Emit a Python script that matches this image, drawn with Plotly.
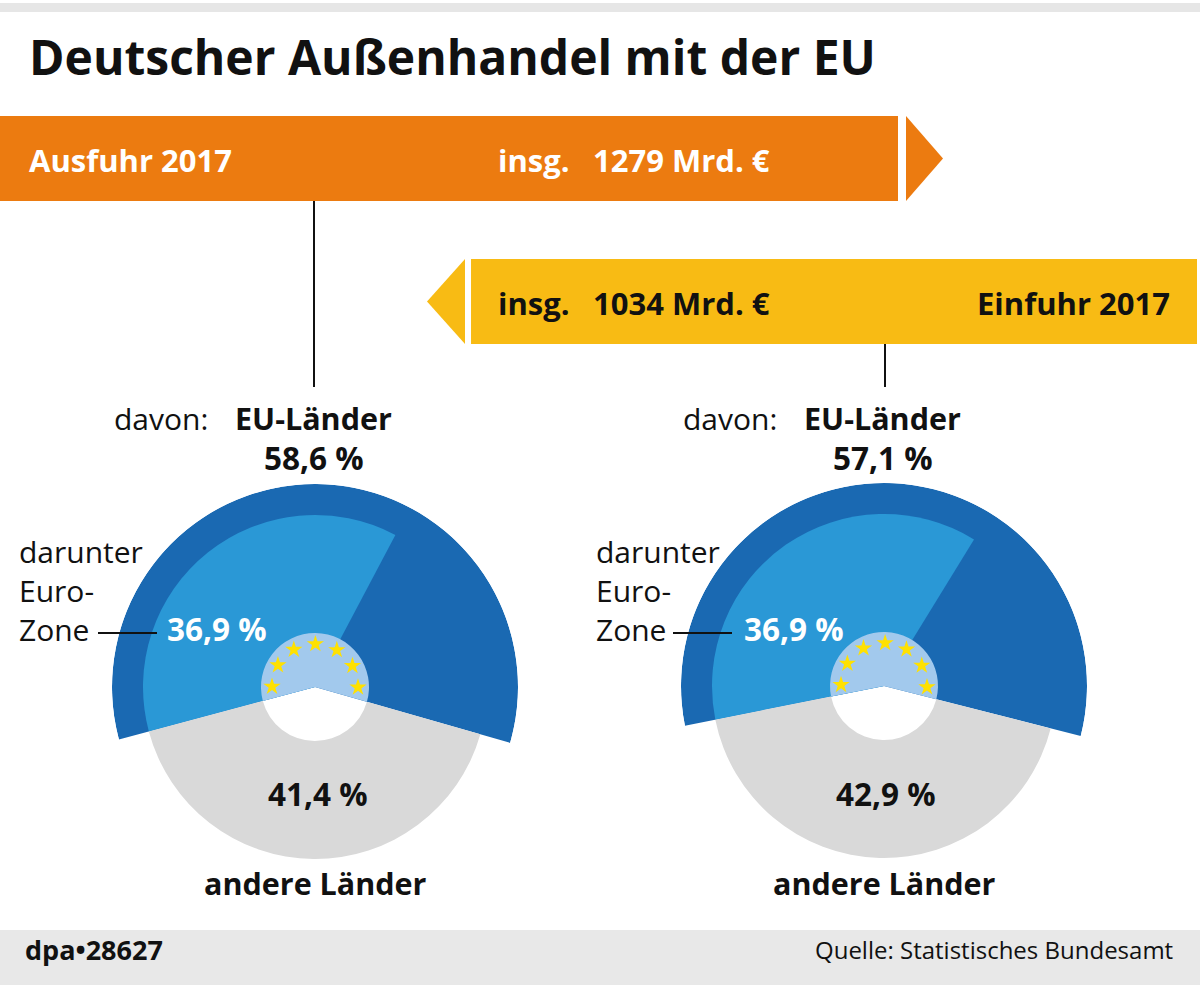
import plotly.graph_objects as go

W, H = 1200, 985
FONT = "Open Sans"

# ---------------- data ----------------
flows = ["Ausfuhr 2017", "Einfuhr 2017"]
totals_bn = [1279, 1034]            # Mrd. €
eu_share = [58.6, 57.1]             # % EU-Länder
eurozone_share = [36.9, 36.9]       # % darunter Euro-Zone
other_share = [41.4, 42.9]          # % andere Länder
star_angles = [-90, -60, -30, 0, 30, 60, 90]

# ---------------- style ----------------
ORANGE = "#ec7b10"
YELLOW = "#f8bb14"
DARK = "#1a69b2"
LIGHT = "#2a98d6"
PALE = "#a2c9ed"
GREY = "#d9d9d9"
STAR = "#ffe100"
INK = "#111111"

R_OUT, R_MID, R_IN, R_STAR = 203, 172, 54, 43
centers = [(315, 687), (884, 686)]     # pixel centres of the two rings
rotations = [89.5, 88.5]

PXU = 898 / totals_bn[0]               # px per Mrd. €
X_MAX = W / PXU
IMPORT_END = 1197 / PXU
ROW_PX = [158.5, 301.5]
ROW_STEP = ROW_PX[1] - ROW_PX[0]
BAR_H = 85 / ROW_STEP


def pct(v):
    return f"{v:.1f}".replace(".", ",") + " %"


fig = go.Figure()

# ---------------- bars (Ausfuhr / Einfuhr) ----------------
fig.add_trace(go.Bar(x=[totals_bn[0]], y=[0], base=[0], orientation="h",
                     width=[BAR_H], marker=dict(color=ORANGE, line=dict(width=0)),
                     hoverinfo="skip", showlegend=False))
imp_base = IMPORT_END - totals_bn[1]
fig.add_trace(go.Bar(x=[totals_bn[1]], y=[1], base=[imp_base], orientation="h",
                     width=[BAR_H], marker=dict(color=YELLOW, line=dict(width=0)),
                     hoverinfo="skip", showlegend=False))

# arrow heads derived from bar ends
g_o, L_o = 8 / PXU, 37 / PXU
v = totals_bn[0]
h = BAR_H / 2
fig.add_trace(go.Scatter(x=[v + g_o, v + g_o + L_o, v + g_o, v + g_o],
                         y=[0 - h, 0, 0 + h, 0 - h], fill="toself", mode="lines",
                         fillcolor=ORANGE, line=dict(width=0, color=ORANGE),
                         hoverinfo="skip", showlegend=False))
g_y, L_y = 6 / PXU, 38 / PXU
fig.add_trace(go.Scatter(x=[imp_base - g_y, imp_base - g_y - L_y, imp_base - g_y, imp_base - g_y],
                         y=[1 - h, 1, 1 + h, 1 - h], fill="toself", mode="lines",
                         fillcolor=YELLOW, line=dict(width=0, color=YELLOW),
                         hoverinfo="skip", showlegend=False))

# ---------------- rings ----------------
for i in range(2):
    sp = "polar" if i == 0 else "polar2"
    eu_w = eu_share[i] * 3.6
    ez_w = eurozone_share[i] * 3.6
    ot_w = other_share[i] * 3.6
    common = dict(subplot=sp, hoverinfo="skip", showlegend=False)
    fig.add_trace(go.Barpolar(r=[R_OUT], theta=[0], width=[eu_w], base=[0],
                              marker=dict(color=DARK, line=dict(width=0)), **common))
    fig.add_trace(go.Barpolar(r=[R_MID], theta=[-eu_w / 2 + ez_w / 2], width=[ez_w], base=[0],
                              marker=dict(color=LIGHT, line=dict(width=0)), **common))
    fig.add_trace(go.Barpolar(r=[R_MID - R_IN], theta=[180], width=[ot_w], base=[R_IN],
                              marker=dict(color=GREY, line=dict(width=0)), **common))
    fig.add_trace(go.Barpolar(r=[R_IN], theta=[0], width=[eu_w], base=[0],
                              marker=dict(color=PALE, line=dict(width=0)), **common))
    fig.add_trace(go.Scatterpolar(r=[R_STAR] * len(star_angles), theta=star_angles, mode="markers",
                                  marker=dict(symbol="star", size=13, color=STAR,
                                              line=dict(width=0)), **common))


def polar_layout(cx, cy, rot):
    return dict(
        domain=dict(x=[(cx - R_OUT) / W, (cx + R_OUT) / W],
                    y=[(H - cy - R_OUT) / H, (H - cy + R_OUT) / H]),
        bgcolor="rgba(0,0,0,0)", hole=0, bargap=0,
        radialaxis=dict(range=[0, R_OUT], visible=False, showgrid=False),
        angularaxis=dict(visible=False, showgrid=False, rotation=rot, direction="clockwise"),
    )


def ann(text, x, y, size, bold=False, color=INK, xanchor="left"):
    return dict(text=f"<b>{text}</b>" if bold else text, x=x / W, y=1 - y / H,
                xref="paper", yref="paper", xanchor=xanchor, yanchor="middle",
                showarrow=False, align="left",
                font=dict(family=FONT, size=size, color=color))


WHITE = "#ffffff"
annotations = [
    ann("Deutscher Außenhandel mit der EU", 27, 56, 48, bold=True),
    ann(flows[0], 27, 160, 31, bold=True, color=WHITE),
    ann("insg.", 496, 160, 31, bold=True, color=WHITE),
    ann(f"{totals_bn[0]} Mrd. €", 591, 160, 31, bold=True, color=WHITE),
    ann("insg.", 496, 303, 31, bold=True),
    ann(f"{totals_bn[1]} Mrd. €", 591, 303, 31, bold=True),
    ann(flows[1], 1172, 303, 31, bold=True, xanchor="right"),
    # left ring
    ann("davon:", 112, 418, 30),
    ann("EU-Länder", 233, 418, 30.5, bold=True),
    ann(pct(eu_share[0]), 314, 457, 31.5, bold=True, xanchor="center"),
    ann("darunter<br>Euro-<br>Zone", 17, 590, 30),
    ann(pct(eurozone_share[0]), 165, 628, 31.5, bold=True, color=WHITE),
    ann(pct(other_share[0]), 318, 793, 31.5, bold=True, xanchor="center"),
    ann("andere Länder", 315, 883, 30.5, bold=True, xanchor="center"),
    # right ring
    ann("davon:", 681, 418, 30),
    ann("EU-Länder", 802, 418, 30.5, bold=True),
    ann(pct(eu_share[1]), 883, 457, 31.5, bold=True, xanchor="center"),
    ann("darunter<br>Euro-<br>Zone", 594, 590, 30),
    ann(pct(eurozone_share[1]), 742, 628, 31.5, bold=True, color=WHITE),
    ann(pct(other_share[1]), 886, 793, 31.5, bold=True, xanchor="center"),
    ann("andere Länder", 884, 883, 30.5, bold=True, xanchor="center"),
    # footer
    ann("dpa•28627", 23, 949, 27, bold=True),
    ann("Quelle: Statistisches Bundesamt", 1175, 949, 24, xanchor="right"),
]


def px_line(x0, y0, x1, y1, width=2):
    return dict(type="line", xref="paper", yref="paper", x0=x0 / W, x1=x1 / W,
                y0=1 - y0 / H, y1=1 - y1 / H, line=dict(color=INK, width=width))


def px_rect(x0, y0, x1, y1, color):
    return dict(type="rect", xref="paper", yref="paper", x0=x0 / W, x1=x1 / W,
                y0=1 - y1 / H, y1=1 - y0 / H, line=dict(width=0), fillcolor=color,
                layer="below")


shapes = [
    px_rect(0, 3, W, 12, "#e6e6e6"),
    px_rect(0, 930, W, H, "#e8e8e8"),
    px_line(centers[0][0] - 1, ROW_PX[0] + 42.5, centers[0][0] - 1, 387),
    px_line(centers[1][0] + 1, ROW_PX[1] + 42.5, centers[1][0] + 1, 387),
    px_line(98, 633, 157, 633),
    px_line(673, 633, 732, 633),
]

Y_TOP, Y_BOT = 100, 360
fig.update_layout(
    width=W, height=H, margin=dict(l=0, r=0, t=0, b=0),
    paper_bgcolor="white", plot_bgcolor="rgba(0,0,0,0)",
    showlegend=False, barmode="overlay",
    xaxis=dict(domain=[0, 1], range=[0, X_MAX], visible=False, fixedrange=True),
    yaxis=dict(domain=[1 - Y_BOT / H, 1 - Y_TOP / H],
               range=[(Y_BOT - ROW_PX[0]) / ROW_STEP, (Y_TOP - ROW_PX[0]) / ROW_STEP],
               visible=False, fixedrange=True),
    polar=polar_layout(*centers[0], rotations[0]),
    polar2=polar_layout(*centers[1], rotations[1]),
    annotations=annotations, shapes=shapes,
)

fig.write_html("out.html")
